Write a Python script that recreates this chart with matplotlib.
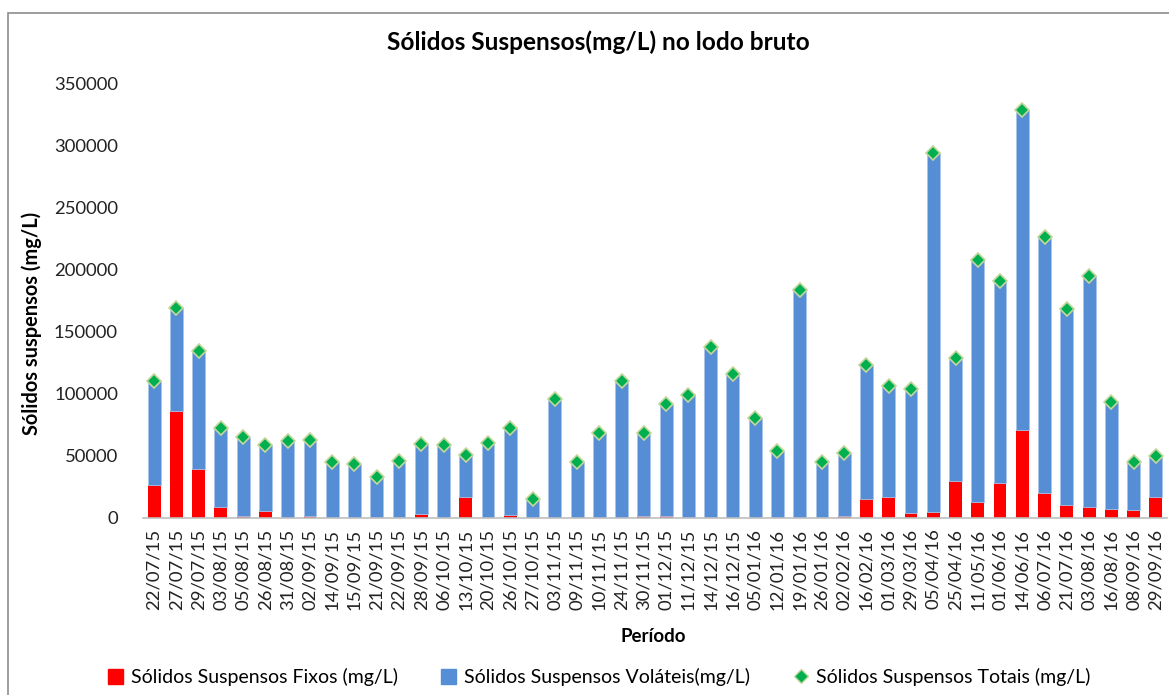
import matplotlib
matplotlib.use("Agg")
import matplotlib.pyplot as plt
from matplotlib.patches import Rectangle
from matplotlib.lines import Line2D
import numpy as np

plt.rcParams['font.family'] = ['Lato', 'DejaVu Sans']

datas = ["22/07/15", "27/07/15", "29/07/15", "03/08/15", "05/08/15", "26/08/15", "31/08/15",
         "02/09/15", "14/09/15", "15/09/15", "21/09/15", "22/09/15", "28/09/15", "06/10/15",
         "13/10/15", "20/10/15", "26/10/15", "27/10/15", "03/11/15", "09/11/15", "10/11/15",
         "24/11/15", "30/11/15", "01/12/15", "11/12/15", "14/12/15", "16/12/15", "05/01/16",
         "12/01/16", "19/01/16", "26/01/16", "02/02/16", "16/02/16", "01/03/16", "29/03/16",
         "05/04/16", "25/04/16", "11/05/16", "01/06/16", "14/06/16", "06/07/16", "21/07/16",
         "03/08/16", "16/08/16", "08/09/16", "29/09/16"]

totais = [109900, 169100, 134700, 72300, 65100, 58900, 61500,
          62900, 44900, 43300, 32800, 46000, 59400, 58300,
          50300, 60200, 72000, 14900, 95500, 44600, 68000,
          110500, 68000, 91400, 98700, 137700, 115900, 80600,
          54000, 183800, 45100, 51800, 123200, 106200, 103500,
          294200, 128600, 208000, 191300, 329200, 226800, 168200,
          195100, 93500, 45100, 49700]

fixos = [26500, 86000, 39400, 8200, 1200, 5200, 0,
         1000, 0, 0, 0, 0, 2800, 0,
         16300, 0, 2000, 0, 0, 0, 0,
         0, 1000, 1500, 0, 0, 0, 0,
         0, 0, 0, 1000, 15200, 16300, 3400,
         4400, 29700, 12800, 27600, 70900, 19500, 10100,
         8500, 7100, 6000, 16600]

volateis = [t - f for t, f in zip(totais, fixos)]

W, H = 1169, 695
fig = plt.figure(figsize=(W / 100, H / 100), dpi=100)
ax = fig.add_axes([143 / W, 1 - 517.5 / H, (1167 - 143) / W, (517.5 - 84) / H])

x = np.arange(len(datas))
red = "#FF0000"
blue = "#558ED5"
green = "#00B050"

ax.bar(x, fixos, width=0.58, color=red, zorder=2)
ax.bar(x, volateis, width=0.58, bottom=fixos, color=blue, edgecolor="#A9C4EB", linewidth=0.6, zorder=2)
ax.plot(x, totais, linestyle="none", marker="D", markersize=7.5, markerfacecolor=green,
        markeredgecolor="#C4D79B", markeredgewidth=1.2, zorder=3)

ax.set_xlim(-0.5, len(datas) - 0.5)
ax.set_ylim(0, 350000)
ax.set_yticks(np.arange(0, 350001, 50000))
ax.set_yticklabels([str(v) for v in range(0, 350001, 50000)], fontsize=13.3, color="#222222")
ax.set_xticks(x)
ax.set_xticklabels(datas, rotation=90, fontsize=13.3, color="#222222")
ax.tick_params(axis="both", length=0)
ax.tick_params(axis="y", pad=18)
ax.tick_params(axis="x", pad=8)
for s in ["top", "right", "left"]:
    ax.spines[s].set_visible(False)
ax.spines["bottom"].set_color("#BFBFBF")
ax.spines["bottom"].set_linewidth(1.2)

fig.text(32 / W, 1 - 323 / H, "Sólidos suspensos (mg/L)", rotation=90, ha="center", va="center",
         fontsize=14.4, fontweight="bold")
fig.text(653 / W, 1 - 636 / H, "Período", ha="center", va="center", fontsize=13.5, fontweight="bold")
fig.text(598 / W, 1 - 42 / H, "Sólidos Suspensos(mg/L) no lodo bruto", ha="center", va="center",
         fontsize=17.6, fontweight="bold")

handles = [
    Rectangle((0, 0), 1, 1, color=red),
    Rectangle((0, 0), 1, 1, color=blue),
    Line2D([], [], linestyle="none", marker="D", markersize=7, markerfacecolor=green,
           markeredgecolor="#C4D79B"),
]
labels = ["Sólidos Suspensos Fixos (mg/L)", "Sólidos Suspensos Voláteis(mg/L)",
          "Sólidos Suspensos Totais (mg/L)"]
fig.legend(handles, labels, loc="center", bbox_to_anchor=(599 / W, 1 - 677 / H), ncol=3,
           frameon=False, fontsize=14.0, handlelength=0.8, handleheight=0.8, handletextpad=0.4,
           columnspacing=2.2)

fig.add_artist(Rectangle((8 / W, -0.1), 1.2, 0.1 + (H - 13) / H, transform=fig.transFigure,
                         fill=False, edgecolor="#8C8C8C", linewidth=1.2))

fig.savefig("out.png", dpi=100)
